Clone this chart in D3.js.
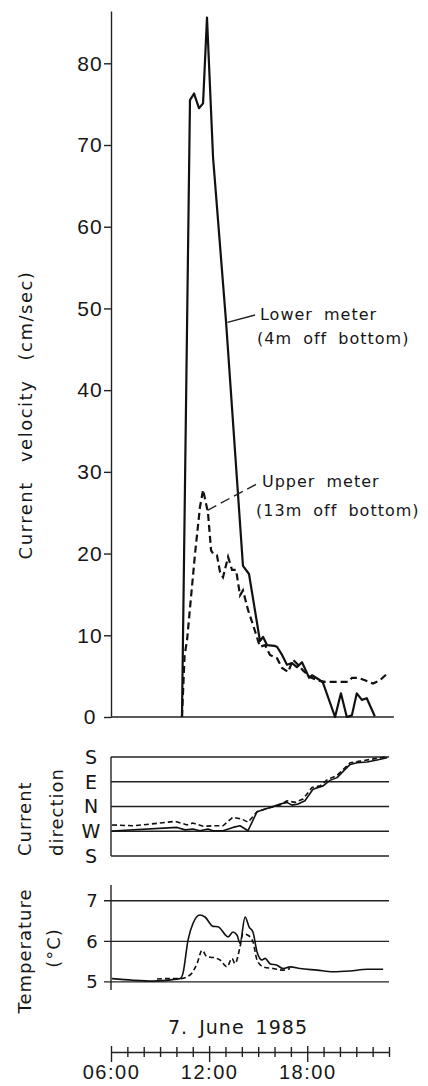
<!DOCTYPE html>
<html>
<head>
<meta charset="utf-8">
<title>Current velocity, direction and temperature, 7 June 1985</title>
<script src="https://cdn.jsdelivr.net/npm/d3@7"></script>
<style>
  body { margin: 0; background: #fff; }
  svg { display: block; font-family: "DejaVu Sans", sans-serif; }
  text { fill: #161616; }
  .axis path, .axis line, .grid { stroke: #222; stroke-width: 1.4; }
  .solid { fill: none; stroke: #111; stroke-width: 2.2; stroke-linejoin: round; }
  .dashed { fill: none; stroke: #111; stroke-width: 2.2; stroke-dasharray: 7 4; }
  .thin { stroke-width: 1.6; }
</style>
</head>
<body>
<script>
const width = 428, height = 1086;

// time is decimal hours on 7 June 1985
const lowerTime = [10.34,10.83,11.08,11.38,11.63,11.87,12.24,13.03,14.07,14.44,15.11,15.30,15.54,16.0,16.15,16.46,16.76,17.07,17.37,17.68,17.98,18.11,18.29,18.47,18.78,18.96,19.70,20.06,20.42,20.73,21.03,21.34,21.64,22.13];
const lowerVel = [0,75.5,76.3,74.5,75.1,85.6,68.5,48.5,18.5,17.5,9.3,9.8,8.8,8.7,8.6,7.6,6.4,6.6,6.1,6.7,5.4,4.8,5.1,4.9,4.5,4.2,0,2.9,0,0.2,2.9,2.1,2.3,0.1];

const upperTime = [10.34,10.5,10.65,11.14,11.44,11.63,11.93,12.12,12.24,12.48,12.67,12.85,13.16,13.40,13.65,13.89,14.07,14.38,14.68,15.11,15.42,15.72,16.15,16.46,16.83,17.13,17.44,17.74,18.17,18.60,19.09,19.58,20.13,20.50,20.74,21.11,21.53,22.02,22.45,22.88];
const upperVel = [0,7.5,9.4,20,25.7,27.8,25,20.4,20,19.8,17.7,17.1,19.6,18,18,14.9,15.5,13.1,11.3,8.6,8.8,7.6,7.2,6.0,5.5,7.0,6.4,5.7,4.9,4.5,4.3,4.3,4.3,4.3,4.8,4.8,4.5,4.1,4.5,5.3];

// direction in degrees, unwrapped: 180 = S, 270 = W, 360 = N, 450 = E, 540 = S
const dirLowerTime = [6.06,10.04,10.53,11.01,11.44,11.93,12.24,12.85,13.46,13.89,14.38,14.93,15.54,16.34,16.76,17.07,17.44,17.86,18.35,18.97,19.39,19.82,20.62,21.05,21.66,22.27,22.88];
const dirLower = [271,284,275,278,272,278,272,272,284,290,272,341,353,369,375,365,369,381,423,435,455,465,513,519,522,529,537];
const dirUpperTime = [6.06,7.35,8.39,9.91,10.65,11.01,11.63,12.24,12.85,13.46,14.01,14.38,14.93,15.54,16.34,16.76,17.25,17.74,18.29,18.78,19.27,19.82,20.62,21.23,21.84,22.88];
const dirUpper = [293,290,296,306,293,300,288,290,290,321,314,303,341,353,365,381,375,387,429,435,459,473,519,525,531,541];
const dirTicks = [180,270,360,450,540];
const dirLabels = ["S","W","N","E","S"];

const tempLowerTime = [6.06,7.35,8.57,10.22,10.40,10.71,11.01,11.44,11.75,12.24,12.54,13.16,13.46,13.71,13.89,14.20,14.44,14.68,14.93,15.24,15.42,15.72,16.15,16.52,16.95,17.56,18.60,19.58,20.62,21.66,22.64];
const tempLower = [5.08,5.04,5.02,5.08,5.21,6.03,6.44,6.65,6.6,6.37,6.36,6.11,6.23,6.15,5.95,6.6,6.36,6.23,5.74,5.54,5.58,5.45,5.41,5.33,5.37,5.33,5.29,5.25,5.27,5.31,5.31];
const tempUpperTime = [8.81,9.42,10.22,10.83,11.26,11.57,11.87,12.24,12.67,13.09,13.40,13.58,13.89,14.07,14.38,14.68,14.93,15.30,15.91,16.52,16.95];
const tempUpper = [5.07,5.08,5.08,5.17,5.45,5.78,5.62,5.6,5.54,5.37,5.58,5.45,5.86,6.19,6.15,5.99,5.54,5.37,5.33,5.29,5.33];

const velTicks = [0,10,20,30,40,50,60,70,80];
const tempTicks = [5,6,7];
const hourTicks = d3.range(6, 24);
const hourLabels = {6: "06:00", 12: "12:00", 18: "18:00"};

const svg = d3.select("body").append("svg")
  .attr("width", width)
  .attr("height", height);

const x = d3.scaleLinear().domain([6, 23]).range([111, 389]);
const yVel = d3.scaleLinear().domain([0, 86.4]).range([717, 11]);
const yDir = d3.scaleLinear().domain([180, 540]).range([856, 757]);
const yTemp = d3.scaleLinear().domain([4.8, 7.39]).range([990, 885]);

const zip = (t, v) => t.map((d, i) => [d, v[i]]);

// ---- velocity panel ----
const gVel = svg.append("g").attr("class", "axis")
  .attr("transform", "translate(" + x(6) + ",0)")
  .call(d3.axisLeft(yVel).tickValues(velTicks).tickSize(7).tickSizeOuter(0));
gVel.selectAll("text")
  .attr("x", -21).attr("text-anchor", "middle")
  .style("font-size", "21px").style("letter-spacing", "1px");

svg.append("line").attr("class", "grid")
  .attr("x1", x(6)).attr("x2", x(23.3))
  .attr("y1", yVel(0)).attr("y2", yVel(0));

svg.append("text")
  .attr("transform", "translate(32," + 415 + ") rotate(-90)")
  .attr("text-anchor", "middle")
  .style("font-size", "18px").style("letter-spacing", "1.5px").style("word-spacing", "12px")
  .text("Current velocity (cm/sec)");

const lineVel = d3.line().x(d => x(d[0])).y(d => yVel(d[1]));
svg.append("path").attr("class", "solid").attr("d", lineVel(zip(lowerTime, lowerVel)));
svg.append("path").attr("class", "dashed").attr("d", lineVel(zip(upperTime, upperVel)));

// labels for the two meters
svg.append("line").attr("class", "grid")
  .attr("x1", x(13.12)).attr("y1", yVel(48.3))
  .attr("x2", x(14.81)).attr("y2", yVel(49.2));
svg.append("line").attr("class", "grid")
  .style("stroke-dasharray", "10 5")
  .attr("x1", x(11.9)).attr("y1", yVel(25.3))
  .attr("x2", x(14.99)).attr("y2", yVel(28.6));

const notes = [
  {t: 15.11, v: 48.6, s: "Lower meter"},
  {t: 14.93, v: 45.6, s: "(4m off bottom)"},
  {t: 15.23, v: 28.1, s: "Upper meter"},
  {t: 14.87, v: 24.6, s: "(13m off bottom)"}
];
svg.selectAll(".note").data(notes).enter().append("text")
  .attr("class", "note")
  .attr("x", d => x(d.t)).attr("y", d => yVel(d.v))
  .style("font-size", "16px").style("letter-spacing", "1px").style("word-spacing", "5px")
  .text(d => d.s);

// ---- direction panel ----
svg.selectAll(".dirline").data(dirTicks).enter().append("line")
  .attr("class", "grid dirline")
  .attr("x1", x(6)).attr("x2", x(23))
  .attr("y1", d => yDir(d)).attr("y2", d => yDir(d));
svg.append("line").attr("class", "grid")
  .attr("x1", x(6)).attr("x2", x(6))
  .attr("y1", yDir(180)).attr("y2", yDir(540));
svg.selectAll(".dirlab").data(dirTicks).enter().append("text")
  .attr("class", "dirlab")
  .attr("x", 91).attr("y", d => yDir(d)).attr("dy", "0.36em")
  .attr("text-anchor", "middle")
  .style("font-size", "19px")
  .text((d, i) => dirLabels[i]);

const lineDir = d3.line().x(d => x(d[0])).y(d => yDir(d[1]));
svg.append("path").attr("class", "solid thin").attr("d", lineDir(zip(dirLowerTime, dirLower)));
svg.append("path").attr("class", "dashed thin").style("stroke-dasharray", "5 3")
  .attr("d", lineDir(zip(dirUpperTime, dirUpper)));

svg.append("text")
  .attr("transform", "translate(31,856) rotate(-90)")
  .style("font-size", "18px").style("letter-spacing", "1px")
  .text("Current");
svg.append("text")
  .attr("transform", "translate(63,856) rotate(-90)")
  .style("font-size", "18px").style("letter-spacing", "1px")
  .text("direction");

// ---- temperature panel ----
svg.selectAll(".templine").data(tempTicks).enter().append("line")
  .attr("class", "grid templine")
  .attr("x1", x(6) - 7).attr("x2", x(23))
  .attr("y1", d => yTemp(d)).attr("y2", d => yTemp(d));
svg.append("line").attr("class", "grid")
  .attr("x1", x(6)).attr("x2", x(6))
  .attr("y1", yTemp(4.8)).attr("y2", yTemp(7.39));
svg.selectAll(".templab").data(tempTicks).enter().append("text")
  .attr("class", "templab")
  .attr("x", 92).attr("y", d => yTemp(d)).attr("dy", "0.36em")
  .attr("text-anchor", "middle")
  .style("font-size", "18px")
  .text(d => d);

const lineTemp = d3.line().x(d => x(d[0])).y(d => yTemp(d[1])).curve(d3.curveMonotoneX);
svg.append("path").attr("class", "solid thin").attr("d", lineTemp(zip(tempLowerTime, tempLower)));
svg.append("path").attr("class", "dashed thin").style("stroke-dasharray", "5 3")
  .attr("d", lineTemp(zip(tempUpperTime, tempUpper)));

svg.append("text")
  .attr("transform", "translate(31,951) rotate(-90)")
  .attr("text-anchor", "middle")
  .style("font-size", "18px").style("letter-spacing", "1px")
  .text("Temperature");
svg.append("text")
  .attr("transform", "translate(60,948) rotate(-90)")
  .attr("text-anchor", "middle")
  .style("font-size", "18px").style("letter-spacing", "1px")
  .text("(°C)");

// ---- time axis ----
svg.append("text")
  .attr("x", 238).attr("y", 1034)
  .attr("text-anchor", "middle")
  .style("font-size", "19px").style("letter-spacing", "1px").style("word-spacing", "4px")
  .text("7. June 1985");

const gTime = svg.append("g").attr("class", "axis")
  .attr("transform", "translate(0,1052)")
  .call(d3.axisBottom(x).tickValues(hourTicks).tickSizeOuter(0)
    .tickFormat(d => hourLabels[d] || ""));
gTime.selectAll(".tick line")
  .attr("y1", d => hourLabels[d] ? -6 : -5)
  .attr("y2", d => hourLabels[d] ? 10 : 5);
gTime.selectAll(".tick text")
  .attr("y", 13)
  .style("font-size", "20px").style("letter-spacing", "1.5px");
</script>
</body>
</html>
